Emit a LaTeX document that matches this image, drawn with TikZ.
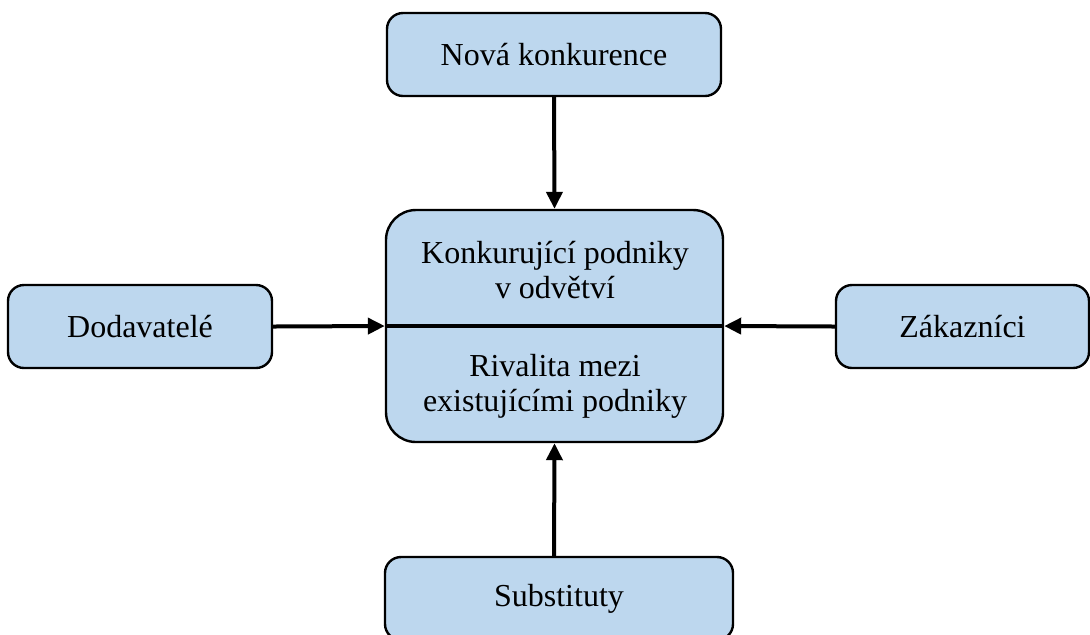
\documentclass[tikz,border=0pt]{standalone}
\usepackage{fontspec}
\setmainfont{Liberation Serif}
\usepackage{xcolor}
\usepackage{tikz}
\usetikzlibrary{arrows.meta}

\definecolor{boxblue}{HTML}{BDD7EE}

\begin{document}
\begin{tikzpicture}[x=0.5pt, y=-0.5pt,
    force/.style={draw, line width=1.2pt, fill=boxblue, rounded corners=8pt,
        minimum height=41.5pt, align=center, inner sep=0pt,
        font=\fontsize{16}{17.5}\selectfont},
    flow/.style={line width=2pt, -{Triangle[length=8.5pt, width=8pt]}}]
        \useasboundingbox (0,0) rectangle (1090,634);

        % center box
        \node[force, minimum width=168.5pt, minimum height=116pt,
              rounded corners=15pt] (rival) at (554.5,326) {};
        \draw[line width=1.6pt] (rival.west) -- (rival.east);
        \node[align=center, font=\fontsize{16}{17.5}\selectfont] (rivaltop)
             at (555,270) {Konkurující podniky\\v odvětví};
        \node[align=center, font=\fontsize{16}{17.5}\selectfont] (rivalbot)
             at (555,386) {Rivalita mezi\\existujícími podniky};

        % outer boxes
        \node[force, minimum width=167pt] (entry) at (554,54.5) {Nová konkurence};
        \node[force, minimum width=132pt] (supply) at (140,326.5) {Dodavatelé};
        \node[force, minimum width=126.5pt] (buyer) at (962.5,326.5) {Zákazníci};
        \node[force, minimum width=174pt] (subst) at (559,598.5) {Substituty};

        % arrows into the center
        \coordinate (subtop) at (554,557);
        \draw[flow] (entry.south) -- (rival.north);
        \draw[flow] (subtop) -- (rival.south);
        \draw[flow] (supply.east) -- (rival.west);
        \draw[flow] (buyer.west) -- (rival.east);
\end{tikzpicture}
\end{document}
